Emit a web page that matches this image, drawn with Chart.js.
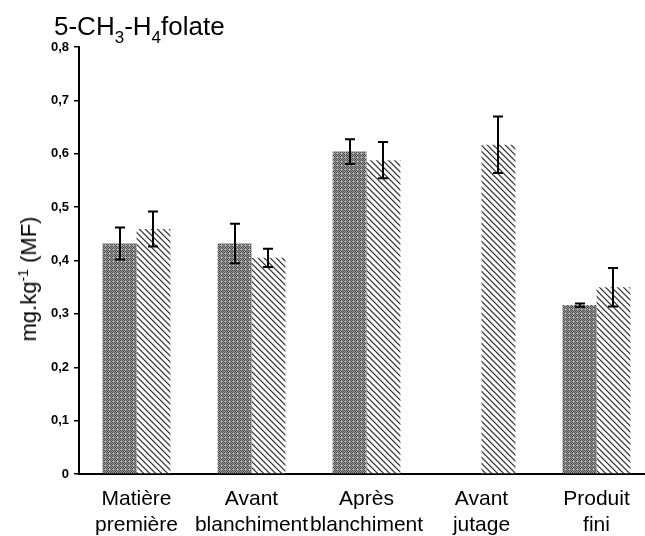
<!DOCTYPE html>
<html><head><meta charset="utf-8">
<script src="https://cdn.jsdelivr.net/npm/chart.js@4.4.1/dist/chart.umd.min.js"></script>
<style>
html,body{margin:0;padding:0;background:#fff;overflow:hidden;width:645px;height:536px;}
#wrap{position:relative;width:658px;height:536px;}
#title{position:absolute;left:54px;top:13px;font:26px "Liberation Sans",Arial,sans-serif;line-height:26px;white-space:nowrap;color:#000;}
#title sub{font-size:17px;vertical-align:-8px;line-height:0;}
#ylab{position:absolute;left:29px;top:279px;transform:translate(-50%,-50%) rotate(-90deg);font:22px "Liberation Sans",Arial,sans-serif;white-space:nowrap;line-height:22px;color:#000;}
#ylab sup{font-size:14px;vertical-align:8px;line-height:0;}
canvas{position:absolute;left:0;top:0;}
</style></head>
<body><div id="wrap"><canvas id="c" width="658" height="536"></canvas>
<div id="title">5-CH<sub>3</sub>-H<sub>4</sub>folate</div>
<div id="ylab">mg.kg<sup>-1</sup> (MF)</div></div>
<script>
const categories = [['Matière','première'],['Avant','blanchiment'],['Après','blanchiment'],['Avant','jutage'],['Produit','fini']];
const seriesA = [0.432, 0.432, 0.604, null, 0.3165];
const errorsA = [0.030, 0.037, 0.023, null, 0.003];
const seriesB = [0.459, 0.405, 0.588, 0.617, 0.350];
const errorsB = [0.033, 0.017, 0.034, 0.053, 0.036];
const yTickLabels = ['0','0,1','0,2','0,3','0,4','0,5','0,6','0,7','0,8'];

function makePattern(size, fn){
  const c = document.createElement('canvas'); c.width = size; c.height = size;
  const g = c.getContext('2d');
  for(let y=0;y<size;y++) for(let x=0;x<size;x++){ g.fillStyle = fn(x,y); g.fillRect(x,y,1,1); }
  return g.createPattern(c,'repeat');
}
const ctx = document.getElementById('c').getContext('2d');
const darkPat = makePattern(4,(x,y)=>{
  if(x%4===1 && y%4===1) return '#dddddd';
  return ((x+y)%2===0) ? '#4e4e4e' : '#9a9a9a';
});
const hatchPat = makePattern(6,(x,y)=>{
  const d = ((x - y) % 6 + 6) % 6;
  if(d===0) return '#3c3c3c';
  if(d===1) return '#8a8a8a';
  if(d===5) return '#d8d8d8';
  return '#ffffff';
});

const errorBars = {
  id:'errorBars',
  afterDatasetsDraw(chart){
    const c = chart.ctx, ys = chart.scales.y;
    chart.data.datasets.forEach((ds,di)=>{
      const meta = chart.getDatasetMeta(di);
      meta.data.forEach((bar,i)=>{
        const v = ds.data[i], e = ds.errors[i];
        if(v==null || e==null) return;
        const x = Math.round(bar.x), yt = ys.getPixelForValue(v+e), yb = ys.getPixelForValue(v-e);
        c.save(); c.strokeStyle='#000'; c.lineWidth=2;
        c.beginPath();
        c.moveTo(x,yt); c.lineTo(x,yb);
        c.moveTo(x-5,yt); c.lineTo(x+5,yt);
        c.moveTo(x-5,yb); c.lineTo(x+5,yb);
        c.stroke(); c.restore();
      });
    });
  }
};

new Chart(ctx,{
  type:'bar',
  data:{
    labels: categories,
    datasets:[
      {data: seriesA, errors: errorsA, backgroundColor: darkPat, borderWidth:0, barPercentage:1, categoryPercentage:0.59},
      {data: seriesB, errors: errorsB, backgroundColor: hatchPat, borderWidth:0, barPercentage:1, categoryPercentage:0.59}
    ]
  },
  options:{
    responsive:false, animation:false, devicePixelRatio:1,
    layout:{padding:{top:47,left:0,right:4,bottom:0}},
    plugins:{legend:{display:false}, tooltip:{enabled:false}, title:{display:false}},
    scales:{
      x:{
        grid:{display:false},
        border:{display:true,color:'#000',width:2},
        ticks:{color:'#000',padding:5,maxRotation:0,autoSkip:false,font:{family:'"Liberation Sans", Arial, sans-serif',size:21,lineHeight:1.2}},
        afterFit(s){ s.height = 62; }
      },
      y:{
        min:0,max:0.8,
        grid:{drawOnChartArea:false,drawTicks:true,tickLength:5,color:'#000',lineWidth:1.5},
        border:{display:true,color:'#000',width:2},
        ticks:{stepSize:0.1,color:'#000',padding:5,font:{family:'"Liberation Sans", Arial, sans-serif',size:13,weight:'bold'},
          callback:(v,i)=>yTickLabels[i]},
        afterFit(s){ s.width = 79; }
      }
    }
  },
  plugins:[errorBars]
});
</script></body></html>
